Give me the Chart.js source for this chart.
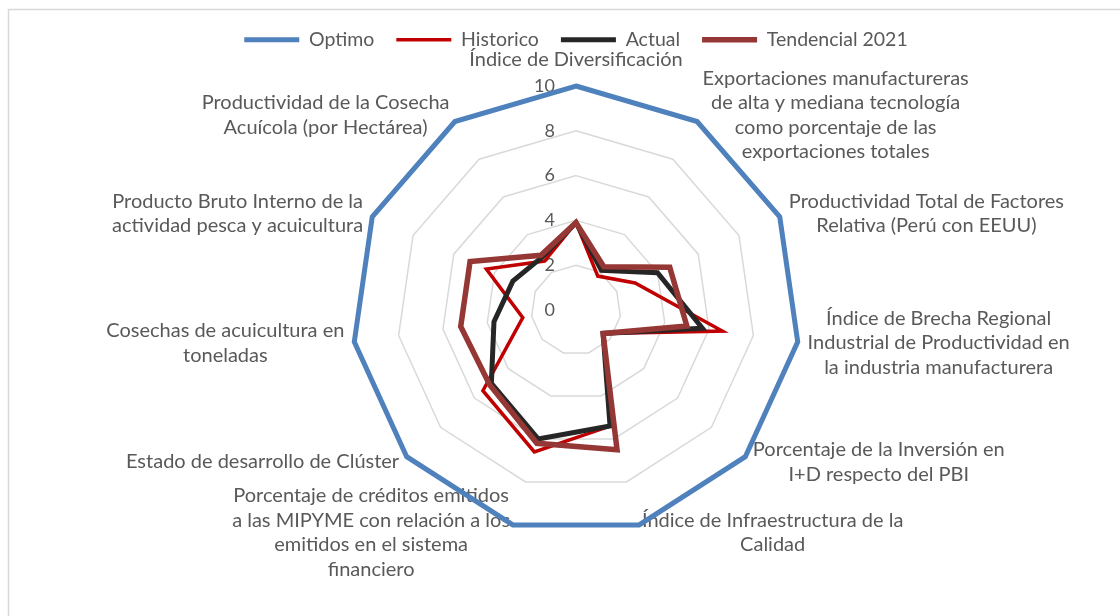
<!DOCTYPE html>
<html>
<head>
<meta charset="utf-8">
<title>Radar</title>
<script src="https://cdn.jsdelivr.net/npm/chart.js@4.4.1/dist/chart.umd.min.js"></script>
<style>
    html, body { margin: 0; padding: 0; background: #fff; }
    canvas { display: block; }
</style>
</head>
<body>
<canvas id="radar-chart" width="1120" height="616"></canvas>
<script>
    // Axis labels, one array per axis (lines as in the original)
    var ejes = [
        ["Índice de Diversificación"],
        ["Exportaciones manufactureras", "de alta y mediana tecnología", "como porcentaje de las", "exportaciones totales"],
        ["Productividad Total de Factores", "Relativa (Perú con EEUU)"],
        ["Índice de Brecha Regional", "Industrial de Productividad en", "la industria manufacturera"],
        ["Porcentaje de la Inversión en", "I+D respecto del PBI"],
        ["Índice de Infraestructura de la", "Calidad"],
        ["Porcentaje de créditos emitidos", "a las MIPYME con relación a los", "emitidos en el sistema", "financiero"],
        ["Estado de desarrollo de Clúster"],
        ["Cosechas de acuicultura en", "toneladas"],
        ["Producto Bruto Interno de la", "actividad pesca y acuicultura"],
        ["Productividad de la Cosecha", "Acuícola (por Hectárea)"]
    ];

    var optimo = [10, 10, 10, 10, 10, 10, 10, 10, 10, 10, 10];
    var historico = [3.9, 1.8, 2.9, 6.6, 1.6, 5.4, 6.6, 5.5, 2.4, 4.4, 2.6];
    var actual = [3.9, 2.1, 4.0, 5.7, 1.6, 5.4, 6.0, 5.0, 3.7, 3.1, 2.8];
    var tendencial = [3.9, 2.3, 4.6, 5.0, 1.6, 6.5, 6.2, 5.1, 5.2, 5.2, 2.9];

    var escala = [0, 2, 4, 6, 8, 10];

    var FUENTE = "Lato, 'Open Sans', sans-serif";
    var GRIS_TEXTO = "#595959";

    Chart.defaults.font.family = FUENTE;
    Chart.defaults.color = GRIS_TEXTO;

    // Frame around the whole chart
    var marco = {
        id: 'marco',
        beforeDraw: function (chart) {
            var ctx = chart.ctx;
            ctx.save();
            ctx.strokeStyle = "#d9d9d9";
            ctx.lineWidth = 1.5;
            ctx.strokeRect(8.5, 9.5, 1300, 800);
            ctx.restore();
        }
    };

    // Extra space under the legend
    var margenLeyenda = {
        id: 'margenLeyenda',
        beforeInit: function (chart) {
            var fit = chart.legend.fit;
            chart.legend.fit = function () {
                fit.bind(chart.legend)();
                this.height += 26.5;
            };
        }
    };

    // Tick labels and axis labels, drawn Excel style (under the lines)
    var textos = {
        id: 'textos',
        beforeDatasetsDraw: function (chart) {
            var ctx = chart.ctx;
            var r = chart.scales.r;
            var n = ejes.length;
            ctx.save();
            ctx.fillStyle = GRIS_TEXTO;

            // ticks
            ctx.font = "18px " + FUENTE;
            ctx.textAlign = "right";
            ctx.textBaseline = "middle";
            escala.forEach(function (v) {
                var d = r.getDistanceFromCenterForValue(v);
                ctx.fillText(String(v), r.xCenter - 21, r.yCenter - d);
            });

            // axis labels
            ctx.font = "20px " + FUENTE;
            ctx.textAlign = "center";
            var lh = 24.5;
            for (var i = 0; i < n; i++) {
                var p = r.getPointPosition(i, r.drawingArea);
                var ang = i * 2 * Math.PI / n;
                var s = Math.sin(ang), c = Math.cos(ang);
                var lineas = ejes[i];
                var ancho = 0;
                lineas.forEach(function (t) {
                    ancho = Math.max(ancho, ctx.measureText(t).width);
                });
                var alto = lineas.length * lh;
                var cx, cy;
                if (i === 0) {
                    cx = p.x;
                    cy = p.y - 26;
                } else {
                    var gap = 10 * Math.abs(s);
                    cx = s > 0 ? p.x + gap + ancho / 2 : p.x - gap - ancho / 2;
                    cy = p.y - 8 * c;
                }
                for (var k = 0; k < lineas.length; k++) {
                    ctx.fillText(lineas[k], cx, cy - alto / 2 + lh * (k + 0.5));
                }
            }
            ctx.restore();
        }
    };

    var ctx1 = document.getElementById("radar-chart").getContext("2d");
    var myChart1 = new Chart(ctx1, {
        type: "radar",
        data: {
            labels: ejes,
            datasets: [{
                label: "Optimo",
                data: optimo,
                borderColor: "#4f81bd",
                backgroundColor: "#4f81bd",
                borderWidth: 5,
                order: 3
            },
            {
                label: "Historico",
                data: historico,
                borderColor: "#c00000",
                backgroundColor: "#c00000",
                borderWidth: 3.5,
                order: 2
            },
            {
                label: "Actual",
                data: actual,
                borderColor: "#262626",
                backgroundColor: "#262626",
                borderWidth: 5,
                order: 1
            },
            {
                label: "Tendencial 2021",
                data: tendencial,
                borderColor: "#953735",
                backgroundColor: "#953735",
                borderWidth: 5.5,
                order: 0
            }
            ]
        },
        options: {
            responsive: false,
            animation: false,
            layout: {
                padding: { top: 8, left: 32, right: 0, bottom: 82 }
            },
            elements: {
                line: { fill: false, tension: 0, borderCapStyle: "round" },
                point: { radius: 0, hoverRadius: 0 }
            },
            scales: {
                r: {
                    min: 0,
                    max: 10,
                    ticks: { stepSize: 2, display: false },
                    grid: { color: "#d9d9d9", lineWidth: 1.5 },
                    angleLines: { display: false },
                    pointLabels: { display: false }
                }
            },
            plugins: {
                legend: {
                    position: "top",
                    reverse: true,
                    labels: {
                        usePointStyle: true,
                        pointStyle: "line",
                        pointStyleWidth: 55,
                        padding: 22,
                        color: GRIS_TEXTO,
                        font: { size: 19.5 }
                    }
                },
                tooltip: { enabled: false }
            }
        },
        plugins: [marco, margenLeyenda, textos]
    });
</script>
</body>
</html>
